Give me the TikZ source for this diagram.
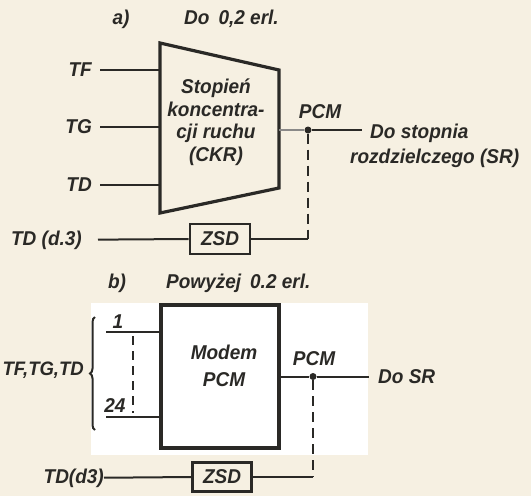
\documentclass[tikz,border=0pt]{standalone}
\usepackage{fontspec}
\setmainfont{Liberation Sans}[FakeStretch=0.95]
\usetikzlibrary{decorations.pathreplacing}
\definecolor{ink}{HTML}{2A2926}
\definecolor{paper}{HTML}{F6F0E2}
\begin{document}
\begin{tikzpicture}[x=1pt,y=-1pt,
  every node/.style={font=\fontsize{20}{23}\selectfont\bfseries\itshape, text=ink, inner sep=0pt},
  wire/.style={draw=ink, line width=2pt},
  dwire/.style={draw=ink, line width=2.2pt, dash pattern=on 10pt off 6pt},
  heavy/.style={draw=ink, line width=3.2pt, line join=miter},
  zsdbox/.style={draw=ink, line width=2.6pt, minimum width=60pt, minimum height=30pt},
  junction/.style={circle, fill=ink, minimum size=7pt, inner sep=0pt}]
\fill[paper] (0,0) rectangle (531,496);
\useasboundingbox (0,0) rectangle (531,496);
\fill[white] (91,303) rectangle (368,455);

% ---------- a) ----------
\node (ta) at (121,19) {a)};
\node[anchor=west] (tatext) at (184,19) {Do\hspace{0.45em}0,2 erl.};

\coordinate (tl) at (160,43);
\coordinate (tr) at (279,70);
\coordinate (br) at (279,188);
\coordinate (bl) at (160,213);
\draw[heavy] (tl) -- (tr) -- (br) -- (bl) -- cycle;
\node[align=center, font=\fontsize{20}{22.5}\selectfont\bfseries\itshape] (ckr) at (216,122) {Stopień\\koncentra-\\cji ruchu\\(CKR)};

\coordinate (inTF) at (160,70);
\coordinate (inTG) at (160,127);
\coordinate (inTD) at (160,185);
\node[anchor=east] (lTF) at (92,70) {TF};
\node[anchor=east] (lTG) at (92,127) {TG};
\node[anchor=east] (lTD) at (92,185) {TD};
\draw[wire, shorten <=8pt] (lTF) -- (inTF);
\draw[wire, shorten <=8pt] (lTG) -- (inTG);
\draw[wire, shorten <=8pt] (lTD) -- (inTD);

\coordinate (outA) at (279,130);
\node[junction] (dotA) at (308,130) {};
\coordinate (endA) at (362,130);
\draw[wire, draw=ink!55] (outA) -- (dotA);
\draw[wire] (dotA) -- (endA);
\node (pcmA) at (320,112) {PCM};
\node[anchor=west] (srA1) at (370,133) {Do stopnia};
\node[anchor=west] (srA2) at (350,158) {rozdzielczego (SR)};

\node[zsdbox] (zsdA) at (220,239) {ZSD};
\coordinate (cornA) at (308,239);
\draw[dwire] (dotA) -- (cornA);
\draw[wire] (cornA) -- (zsdA.east);
\node[anchor=east] (tdA) at (82,240) {TD (d.3)};
\draw[wire, shorten <=16pt] (tdA) -- (zsdA.west);

% ---------- b) ----------
\node (tb) at (117,283) {b)};
\node[anchor=west] (tbtext) at (166,283) {Powyżej\hspace{0.45em}0.2 erl.};

\node[heavy, minimum width=118pt, minimum height=143pt] (modem) at (220,376.5) {};
\node[align=center, font=\fontsize{20}{27}\selectfont\bfseries\itshape] (modemtxt) at (224,366) {Modem\\PCM};

\coordinate (s1) at (106,332);
\coordinate (in1) at (161,332);
\coordinate (s24) at (106,417);
\coordinate (in24) at (161,417);
\draw[wire] (s1) -- (in1);
\draw[wire] (s24) -- (in24);
\node (l1) at (118,322) {1};
\node (l24) at (115,406) {24};
\coordinate (d1) at (133,336);
\coordinate (d24) at (133,413);
\draw[dwire, dash pattern=on 9pt off 6pt] (d1) -- (d24);
\draw[wire, decorate, decoration={brace, amplitude=5pt}] (95,430) -- (95,317);
\node[anchor=east, font=\fontsize{19.5}{22}\selectfont\bfseries\itshape] (lin) at (84,370) {TF,TG,TD};

\node[junction] (dotB) at (313,376.5) {};
\coordinate (endB) at (369,376.5);
\draw[wire] (modem.east) -- (dotB) -- (endB);
\node (pcmB) at (314,359) {PCM};
\node[anchor=west] (srB) at (378,377) {Do SR};

\node[zsdbox, minimum width=59pt, minimum height=29pt] (zsdB) at (222,477) {ZSD};
\coordinate (cornB) at (313,477);
\draw[dwire] (dotB) -- (cornB);
\draw[wire] (cornB) -- (zsdB.east);
\node[anchor=east] (tdB) at (104,478) {TD(d3)};
\draw[wire] (tdB) -- (zsdB.west);
\end{tikzpicture}
\end{document}
